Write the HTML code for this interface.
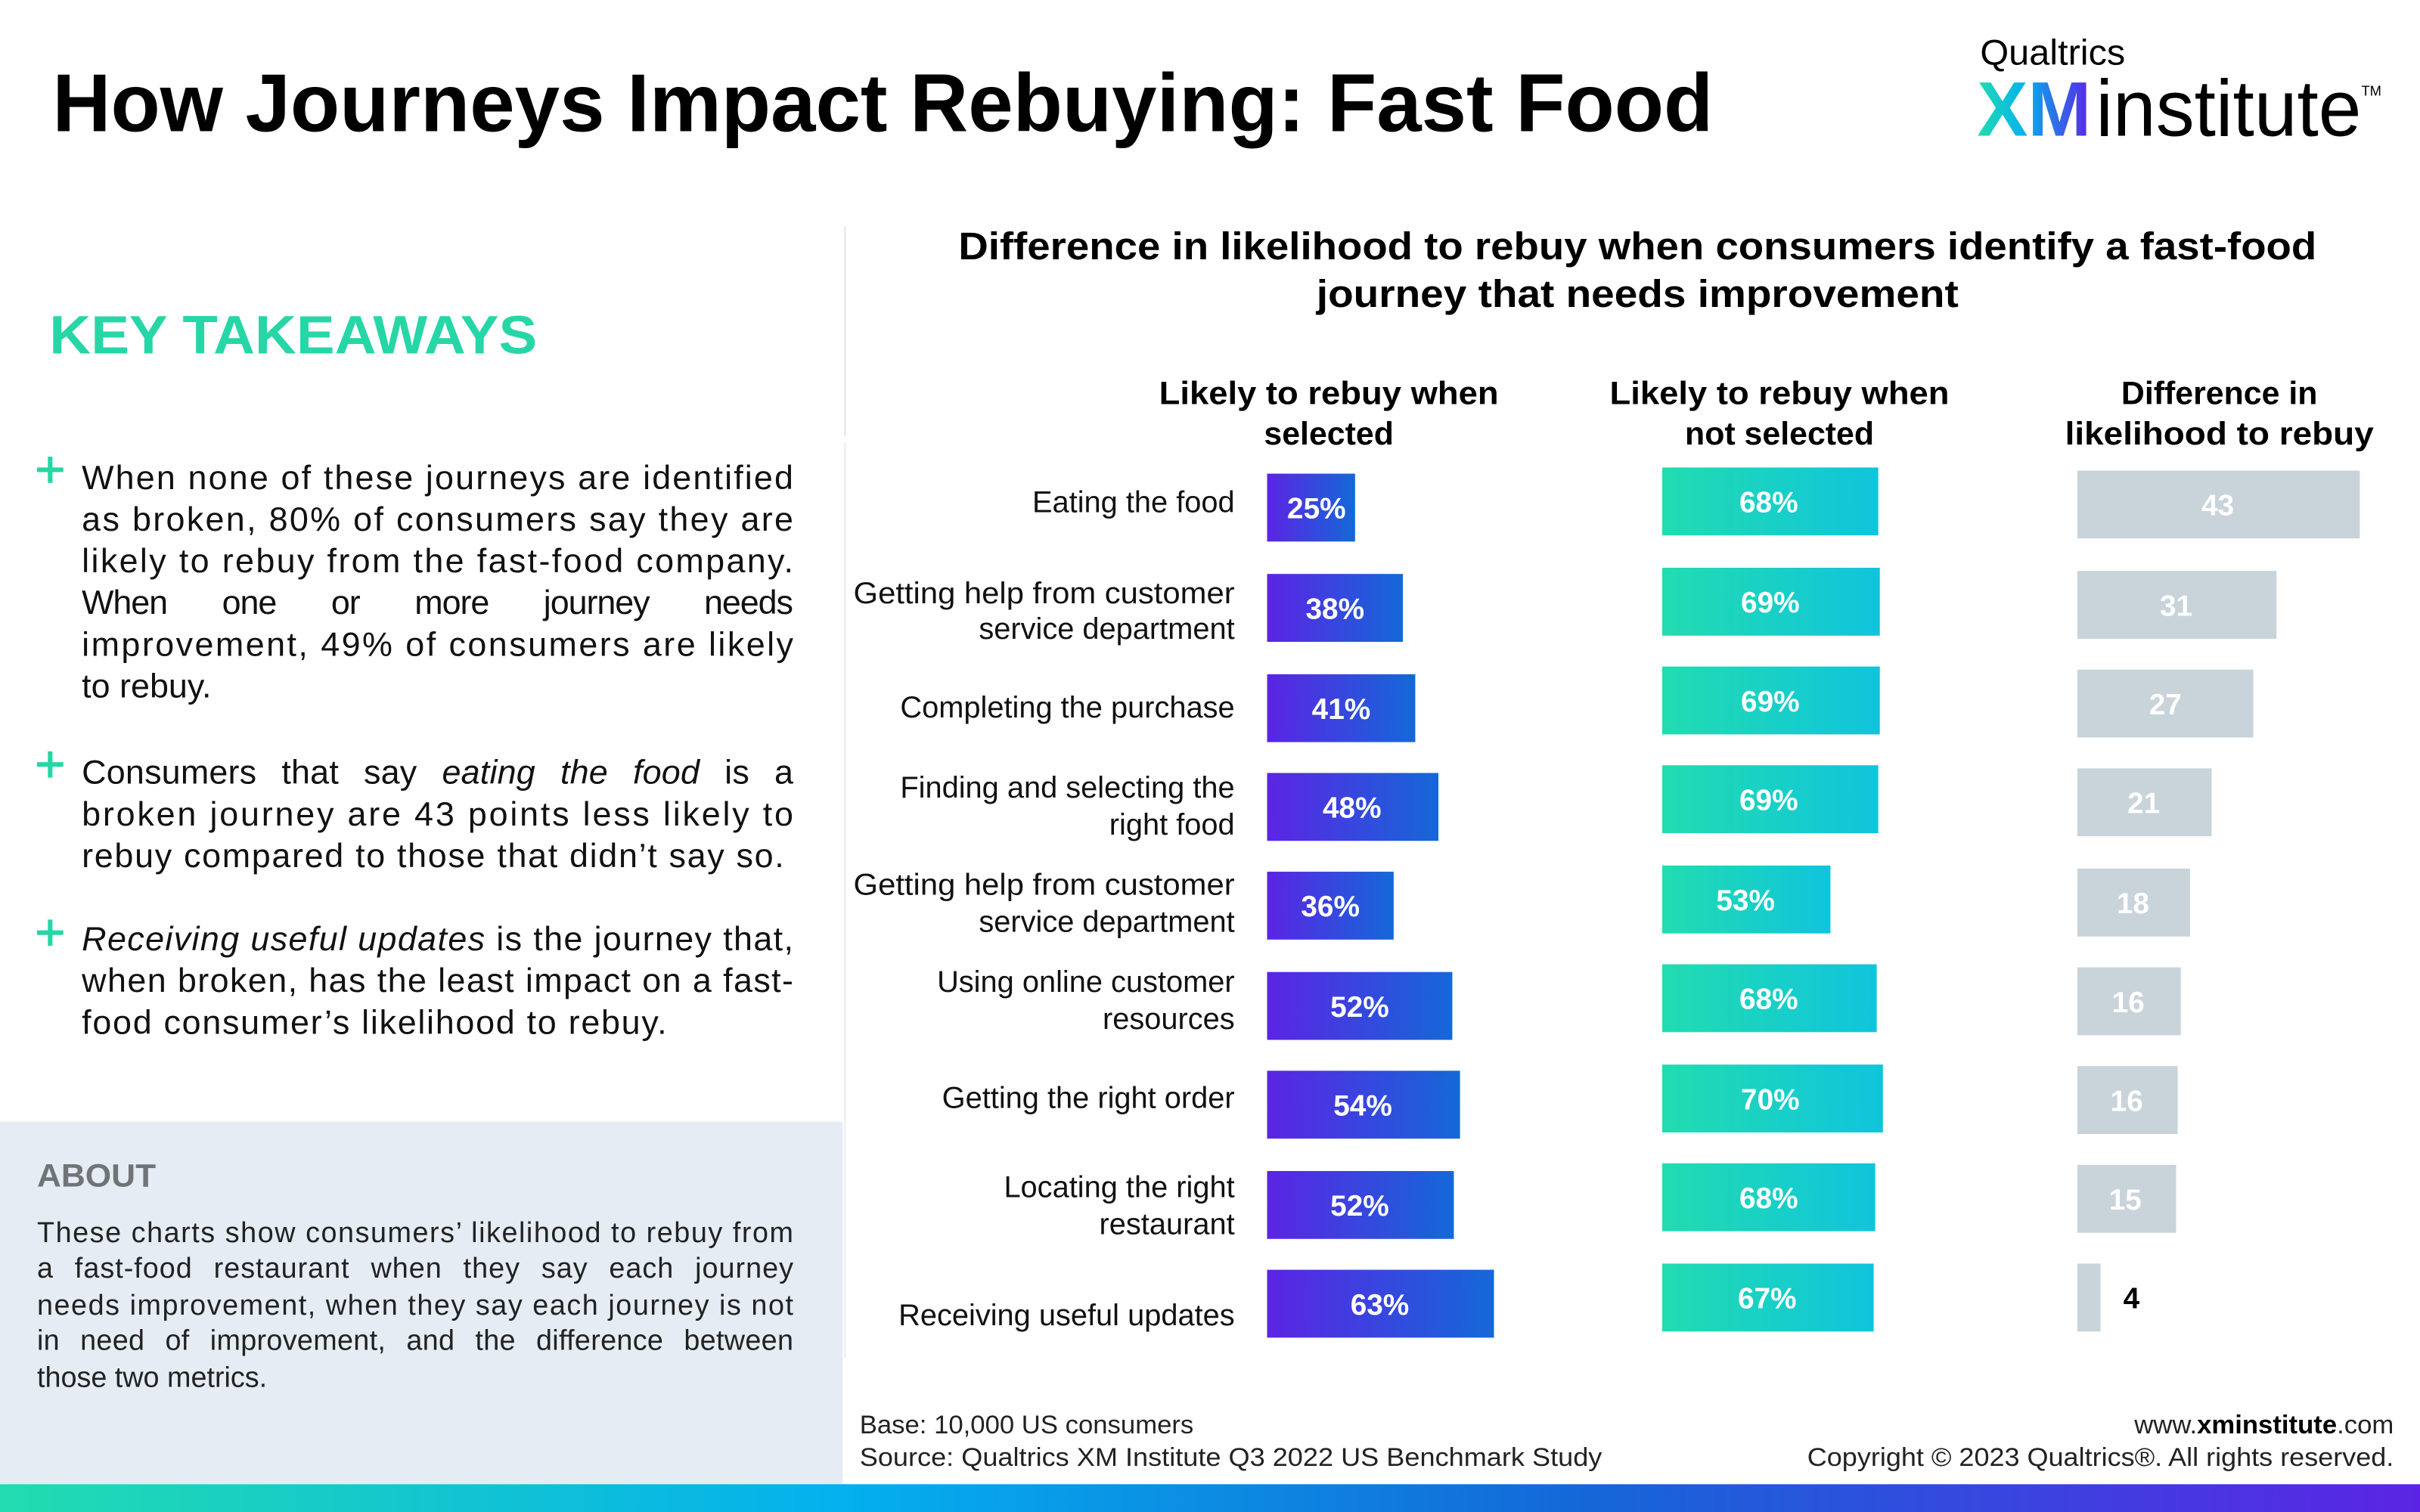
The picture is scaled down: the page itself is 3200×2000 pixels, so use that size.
<!DOCTYPE html>
<html><head><meta charset="utf-8">
<style>html,body{margin:0;padding:0;background:#fff;}svg{display:block;}</style>
</head><body>
<svg xmlns="http://www.w3.org/2000/svg" width="3200" height="2000" viewBox="0 0 1568 980" preserveAspectRatio="none" font-family="Liberation Sans, sans-serif">
<defs>
<linearGradient id="pur" x1="0" x2="1"><stop offset="0" stop-color="#5b24e4"/><stop offset="1" stop-color="#1468d8"/></linearGradient>
<linearGradient id="tea" x1="0" x2="1"><stop offset="0" stop-color="#22dcb0"/><stop offset="1" stop-color="#10c4dc"/></linearGradient>
<linearGradient id="xm" x1="0" x2="1"><stop offset="0" stop-color="#22dcb0"/><stop offset="0.4" stop-color="#04b4ec"/><stop offset="1" stop-color="#5b24e4"/></linearGradient>
<linearGradient id="bar" x1="0" x2="1"><stop offset="0" stop-color="#22dcb0"/><stop offset="0.35" stop-color="#04b0ee"/><stop offset="0.65" stop-color="#1468d8"/><stop offset="1" stop-color="#5b24e4"/></linearGradient>
</defs>
<rect width="1568" height="980" fill="#fff"/>
<text x="34" y="85" font-size="53" font-weight="bold" fill="#000" textLength="1076" lengthAdjust="spacingAndGlyphs">How Journeys Impact Rebuying: Fast Food</text>
<text x="1283" y="42" font-size="23" fill="#000" textLength="94" lengthAdjust="spacingAndGlyphs">Qualtrics</text>
<text x="1281" y="88" font-size="50" font-weight="bold" fill="url(#xm)" textLength="74" lengthAdjust="spacingAndGlyphs">XM</text>
<text x="1358" y="88" font-size="52" fill="#000" textLength="172" lengthAdjust="spacingAndGlyphs">institute</text>
<text x="1530" y="62" font-size="9" fill="#000">TM</text>

<line x1="547.5" y1="147" x2="547.5" y2="283" stroke="#dfe6ea" stroke-width="1"/>
<line x1="547.5" y1="287" x2="547.5" y2="880" stroke="#e8edf0" stroke-width="1"/>

<text x="32" y="229" font-size="35" font-weight="bold" fill="#27d6a6" textLength="316" lengthAdjust="spacingAndGlyphs">KEY TAKEAWAYS</text>

<g fill="#27d6a6">
<rect x="24" y="303" width="17" height="3"/><rect x="31" y="296" width="3" height="17"/>
<rect x="24" y="494" width="17" height="3"/><rect x="31" y="487" width="3" height="17"/>
<rect x="24" y="603" width="17" height="3"/><rect x="31" y="596" width="3" height="17"/>
</g>
<g font-size="22" fill="#111">
<text x="53" y="317" textLength="461" lengthAdjust="spacing">When none of these journeys are identified</text>
<text x="53" y="344" textLength="461" lengthAdjust="spacing">as broken, 80% of consumers say they are</text>
<text x="53" y="371" textLength="461" lengthAdjust="spacing">likely to rebuy from the fast-food company.</text>
<text x="53" y="398" textLength="461" lengthAdjust="spacing" word-spacing="30">When one or more journey needs</text>
<text x="53" y="425" textLength="461" lengthAdjust="spacing">improvement, 49% of consumers are likely</text>
<text x="53" y="452">to rebuy.</text>
<text x="53" y="508" textLength="461" lengthAdjust="spacing" word-spacing="10">Consumers that say <tspan font-style="italic">eating the food</tspan> is a</text>
<text x="53" y="535" textLength="461" lengthAdjust="spacing">broken journey are 43 points less likely to</text>
<text x="53" y="562" textLength="455" lengthAdjust="spacing">rebuy compared to those that didn’t say so.</text>
<text x="53" y="616" textLength="461" lengthAdjust="spacing"><tspan font-style="italic">Receiving useful updates</tspan> is the journey that,</text>
<text x="53" y="643" textLength="461" lengthAdjust="spacing">when broken, has the least impact on a fast-</text>
<text x="53" y="670" textLength="379" lengthAdjust="spacing">food consumer’s likelihood to rebuy.</text>
</g>

<rect x="0" y="727" width="546" height="235" fill="#e5ecf4"/>
<text x="24" y="769" font-size="21" font-weight="bold" fill="#707477" textLength="77" lengthAdjust="spacingAndGlyphs">ABOUT</text>
<g font-size="18.5" fill="#222">
<text x="24" y="805" textLength="490" lengthAdjust="spacing">These charts show consumers’ likelihood to rebuy from</text>
<text x="24" y="828" textLength="490" lengthAdjust="spacing" word-spacing="8">a fast-food restaurant when they say each journey</text>
<text x="24" y="852" textLength="490" lengthAdjust="spacing">needs improvement, when they say each journey is not</text>
<text x="24" y="875" textLength="490" lengthAdjust="spacing" word-spacing="8">in need of improvement, and the difference between</text>
<text x="24" y="899">those two metrics.</text>
</g>
<rect x="0" y="962" width="1568" height="18" fill="url(#bar)"/>

<g font-weight="bold" fill="#000" text-anchor="middle">
<text x="1061" y="168" font-size="25" textLength="880" lengthAdjust="spacingAndGlyphs">Difference in likelihood to rebuy when consumers identify a fast-food</text>
<text x="1061" y="199" font-size="25" textLength="416" lengthAdjust="spacingAndGlyphs">journey that needs improvement</text>
<g font-size="21">
<text x="861" y="262" textLength="220" lengthAdjust="spacingAndGlyphs">Likely to rebuy when</text><text x="861" y="288">selected</text>
<text x="1153" y="262" textLength="220" lengthAdjust="spacingAndGlyphs">Likely to rebuy when</text><text x="1153" y="288">not selected</text>
<text x="1438" y="262">Difference in</text><text x="1438" y="288" textLength="200" lengthAdjust="spacingAndGlyphs">likelihood to rebuy</text>
</g>
</g>

<g font-size="19.5" fill="#111" text-anchor="end">
<text x="800" y="332">Eating the food</text>
<text x="800" y="391" textLength="247" lengthAdjust="spacingAndGlyphs">Getting help from customer</text><text x="800" y="414">service department</text>
<text x="800" y="465">Completing the purchase</text>
<text x="800" y="517">Finding and selecting the</text><text x="800" y="541">right food</text>
<text x="800" y="580" textLength="247" lengthAdjust="spacingAndGlyphs">Getting help from customer</text><text x="800" y="604">service department</text>
<text x="800" y="643">Using online customer</text><text x="800" y="667">resources</text>
<text x="800" y="718">Getting the right order</text>
<text x="800" y="776">Locating the right</text><text x="800" y="800">restaurant</text>
<text x="800" y="859">Receiving useful updates</text>
</g>

<g font-size="19" font-weight="bold" fill="#fff" text-anchor="middle">
<rect x="821" y="307" width="57" height="44" fill="url(#pur)"/><text x="853" y="336">25%</text>
<rect x="821" y="372" width="88" height="44" fill="url(#pur)"/><text x="865" y="401">38%</text>
<rect x="821" y="437" width="96" height="44" fill="url(#pur)"/><text x="869" y="466">41%</text>
<rect x="821" y="501" width="111" height="44" fill="url(#pur)"/><text x="876" y="530">48%</text>
<rect x="821" y="565" width="82" height="44" fill="url(#pur)"/><text x="862" y="594">36%</text>
<rect x="821" y="630" width="120" height="44" fill="url(#pur)"/><text x="881" y="659">52%</text>
<rect x="821" y="694" width="125" height="44" fill="url(#pur)"/><text x="883" y="723">54%</text>
<rect x="821" y="759" width="121" height="44" fill="url(#pur)"/><text x="881" y="788">52%</text>
<rect x="821" y="823" width="147" height="44" fill="url(#pur)"/><text x="894" y="852">63%</text>

<rect x="1077" y="303" width="140" height="44" fill="url(#tea)"/><text x="1146" y="332">68%</text>
<rect x="1077" y="368" width="141" height="44" fill="url(#tea)"/><text x="1147" y="397">69%</text>
<rect x="1077" y="432" width="141" height="44" fill="url(#tea)"/><text x="1147" y="461">69%</text>
<rect x="1077" y="496" width="140" height="44" fill="url(#tea)"/><text x="1146" y="525">69%</text>
<rect x="1077" y="561" width="109" height="44" fill="url(#tea)"/><text x="1131" y="590">53%</text>
<rect x="1077" y="625" width="139" height="44" fill="url(#tea)"/><text x="1146" y="654">68%</text>
<rect x="1077" y="690" width="143" height="44" fill="url(#tea)"/><text x="1147" y="719">70%</text>
<rect x="1077" y="754" width="138" height="44" fill="url(#tea)"/><text x="1146" y="783">68%</text>
<rect x="1077" y="819" width="137" height="44" fill="url(#tea)"/><text x="1145" y="848">67%</text>

<g fill="#c9d3da">
<rect x="1346" y="305" width="183" height="44"/><rect x="1346" y="370" width="129" height="44"/>
<rect x="1346" y="434" width="114" height="44"/><rect x="1346" y="498" width="87" height="44"/>
<rect x="1346" y="563" width="73" height="44"/><rect x="1346" y="627" width="67" height="44"/>
<rect x="1346" y="691" width="65" height="44"/><rect x="1346" y="755" width="64" height="44"/>
<rect x="1346" y="819" width="15" height="44"/>
</g>
<text x="1437" y="334">43</text><text x="1410" y="399">31</text><text x="1403" y="463">27</text>
<text x="1389" y="527">21</text><text x="1382" y="592">18</text><text x="1379" y="656">16</text>
<text x="1378" y="720">16</text><text x="1377" y="784">15</text>
<text x="1381" y="848" fill="#000">4</text>
</g>

<g font-size="17" fill="#222">
<text x="557" y="929">Base: 10,000 US consumers</text>
<text x="557" y="950" textLength="481" lengthAdjust="spacingAndGlyphs">Source: Qualtrics XM Institute Q3 2022 US Benchmark Study</text>
<text x="1551" y="929" text-anchor="end">www.<tspan font-weight="bold" fill="#000">xminstitute</tspan>.com</text>
<text x="1551" y="950" text-anchor="end" textLength="380" lengthAdjust="spacingAndGlyphs">Copyright © 2023 Qualtrics®. All rights reserved.</text>
</g>
</svg>
</body></html>
